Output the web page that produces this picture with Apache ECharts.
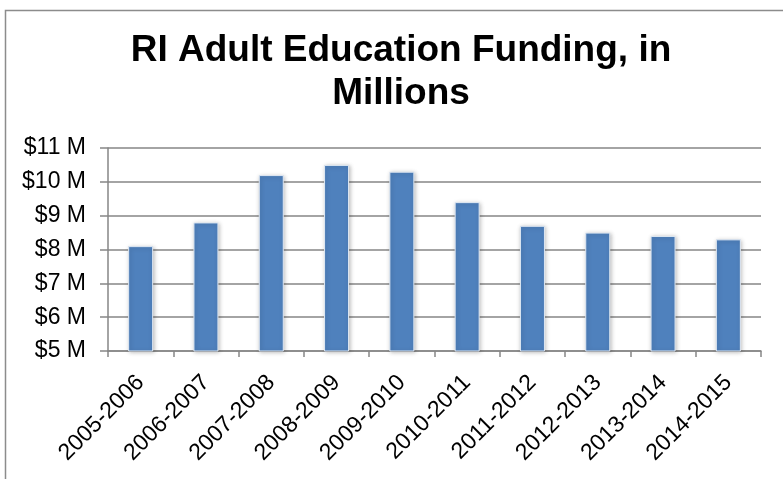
<!DOCTYPE html>
<html>
<head>
<meta charset="utf-8">
<script src="https://cdn.jsdelivr.net/npm/echarts@6/dist/echarts.min.js"></script>
<style>
html,body{margin:0;padding:0;background:#fff;}
#chart{width:783px;height:479px;}
</style>
</head>
<body>
<div id="chart"></div>
<script>
const categories = ['2005-2006','2006-2007','2007-2008','2008-2009','2009-2010','2010-2011','2011-2012','2012-2013','2013-2014','2014-2015'];
const funding = [8.1, 8.8, 10.2, 10.5, 10.3, 9.4, 8.7, 8.5, 8.4, 8.3];
const titleText = 'RI Adult Education Funding, in\nMillions';

const chart = echarts.init(document.getElementById('chart'), null, {renderer:'canvas'});
chart.setOption({
  animation: false,
  backgroundColor: '#fff',
  title: {
    text: titleText,
    left: 396, top: 24, textAlign: 'center',
    textStyle: {fontFamily: 'Liberation Sans, Arial', fontWeight: 'bold', fontSize: 37, color: '#000', lineHeight: 43}
  },
  graphic: [{
    type: 'rect', left: 3, top: 8, silent: true,
    shape: {width: 820, height: 520},
    style: {fill: 'none', stroke: '#8c8c8c', lineWidth: 1.5}
  }],
  grid: {left: 108, right: 22, top: 148, bottom: 128, containLabel: false},
  xAxis: {
    type: 'category', data: categories,
    axisLine: {lineStyle: {color: '#868686', width: 1.5}},
    axisTick: {show: true, length: 6, lineStyle: {color: '#868686', width: 1.5}, alignWithLabel: false},
    axisLabel: {rotate: 45, interval: 0, margin: 28, fontFamily: 'Liberation Sans, Arial', fontSize: 23, color: '#000'}
  },
  yAxis: {
    type: 'value', min: 5, max: 11, interval: 1,
    axisLine: {show: true, lineStyle: {color: '#868686', width: 1.5}},
    axisTick: {show: true, length: 8, lineStyle: {color: '#868686', width: 1.5}},
    splitLine: {lineStyle: {color: '#868686', width: 1.5}},
    axisLabel: {formatter: v => '$' + v + ' M', margin: 22, fontFamily: 'Liberation Sans, Arial', fontSize: 23, color: '#000'}
  },
  series: [{
    type: 'bar', data: funding, barWidth: 25,
    itemStyle: {color: '#4F81BD', borderColor: '#dfe8f3', borderWidth: 1,
      shadowBlur: 4, shadowColor: 'rgba(0,0,0,0.25)', shadowOffsetX: 1, shadowOffsetY: 1}
  }]
});
</script>
</body>
</html>
